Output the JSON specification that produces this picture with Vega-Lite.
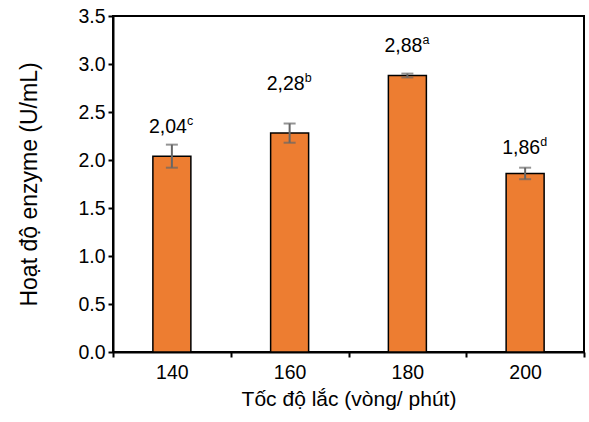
{
  "$schema": "https://vega.github.io/schema/vega-lite/v6.json",
  "width": 471,
  "height": 336,
  "autosize": "none",
  "padding": {"left": 113, "top": 16, "right": 5, "bottom": 70},
  "background": "white",
  "config": {
    "font": "Liberation Sans",
    "view": {"stroke": "black", "strokeWidth": 2},
    "axis": {"labelFont": "Liberation Sans", "titleFont": "Liberation Sans", "labelColor": "black", "titleColor": "black", "domainColor": "black", "tickColor": "black", "domainWidth": 2, "tickWidth": 2, "tickSize": 5, "grid": false, "labelFontSize": 19.5, "titleFontSize": 20, "titleFontWeight": "normal", "labelOverlap": false}
  },
  "data": {
    "values": [
      {"speed": "140", "value": 2.04, "lo": 1.92, "hi": 2.16, "label": "2,04", "sup": "c", "labelY": 2.28},
      {"speed": "160", "value": 2.28, "lo": 2.18, "hi": 2.38, "label": "2,28", "sup": "b", "labelY": 2.73},
      {"speed": "180", "value": 2.88, "lo": 2.86, "hi": 2.90, "label": "2,88", "sup": "a", "labelY": 3.125},
      {"speed": "200", "value": 1.86, "lo": 1.80, "hi": 1.92, "label": "1,86", "sup": "d", "labelY": 2.06}
    ]
  },
  "encoding": {
    "x": {
      "field": "speed", "type": "nominal", "sort": null,
      "scale": {"paddingInner": 0, "paddingOuter": 0},
      "axis": {"title": "Tốc độ lắc (vòng/ phút)", "titleFontSize": 21, "labelAngle": 0, "tickBand": "extent", "labelPadding": 6, "titlePadding": 7}
    }
  },
  "layer": [
    {
      "mark": {"type": "bar", "fill": "#ED7D31", "stroke": "black", "strokeWidth": 1.5, "width": 38},
      "encoding": {
        "y": {"field": "value", "type": "quantitative",
          "scale": {"domain": [0, 3.5], "nice": false},
          "axis": {"title": "Hoạt độ enzyme (U/mL)", "titleFontSize": 23, "format": ".1f", "values": [0, 0.5, 1, 1.5, 2, 2.5, 3, 3.5], "labelPadding": 3, "titlePadding": 36}
        }
      }
    },
    {
      "mark": {"type": "rule", "color": "#666666", "strokeWidth": 2},
      "encoding": {"y": {"field": "lo", "type": "quantitative"}, "y2": {"field": "hi"}}
    },
    {
      "mark": {"type": "tick", "color": "#666666", "thickness": 2, "size": 12, "orient": "horizontal"},
      "encoding": {"y": {"field": "lo", "type": "quantitative"}}
    },
    {
      "mark": {"type": "tick", "color": "#666666", "thickness": 2, "size": 12, "orient": "horizontal"},
      "encoding": {"y": {"field": "hi", "type": "quantitative"}}
    },
    {
      "mark": {"type": "text", "align": "right", "baseline": "alphabetic", "dx": 15, "fontSize": 19.5, "color": "black"},
      "encoding": {"y": {"field": "labelY", "type": "quantitative"}, "text": {"field": "label"}}
    },
    {
      "mark": {"type": "text", "align": "left", "baseline": "alphabetic", "dx": 15, "dy": -8, "fontSize": 12.5, "color": "black"},
      "encoding": {"y": {"field": "labelY", "type": "quantitative"}, "text": {"field": "sup"}}
    }
  ]
}
